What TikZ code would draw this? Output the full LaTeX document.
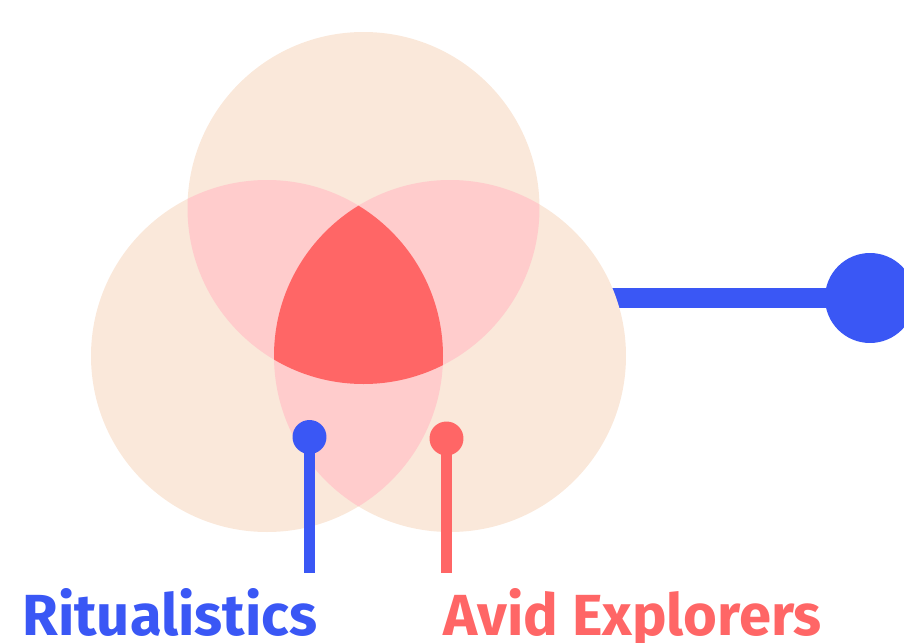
\documentclass[tikz,border=0pt]{standalone}
\usepackage{fontspec}
\setmainfont{Fira Sans}
\usetikzlibrary{positioning}

\definecolor{peach}{HTML}{FAE8DA}
\definecolor{blush}{HTML}{FFCCCC}
\definecolor{coral}{HTML}{FF6666}
\definecolor{royal}{HTML}{3A57F5}

\begin{document}
\begin{tikzpicture}[x=0.02cm, y=-0.02cm,
	pindot/.style={circle, fill=#1, inner sep=0pt, minimum size=0.68cm},
	pinline/.style={draw=#1, line width=6.2pt},
	tag/.style={anchor=base west, inner sep=0pt, text=#1, font=\fontsize{33}{40}\selectfont\bfseries}]

		\pgfmathsetmacro{\rad}{176}
		\useasboundingbox (0,0) rectangle (904,643);

		\coordinate (top) at (363.5,208);
		\coordinate (left) at (267,356);
		\coordinate (right) at (450,356);

		% hub connector, behind the circles
		\node[circle, fill=royal, inner sep=0pt, minimum size=1.8cm] (hub) at (870,298) {};
		\draw[royal, line width=11.9pt] (hub.center) -- (hub -| right);

		% draw the three circles
		\foreach \c in {top, left, right}
			\fill[peach] (\c) circle[radius=\rad];

		% pairwise overlaps
		\foreach \a/\b in {top/left, top/right, left/right}
		{
			\begin{scope}
				\clip (\a) circle[radius=\rad];
				\fill[blush] (\b) circle[radius=\rad];
			\end{scope}
		}

		% overlap of all three
		\begin{scope}
			\clip (top) circle[radius=\rad];
			\clip (left) circle[radius=\rad];
			\fill[coral] (right) circle[radius=\rad];
		\end{scope}

		% pins and labels
		\node[pindot=royal] (ritualdot) at (309.5,437) {};
		\coordinate (ritualend) at (309.5,573);
		\draw[pinline=royal] (ritualdot.center) -- (ritualend);
		\node[tag=royal] (ritual) at (22,635) {Ritualistics};

		\node[pindot=coral] (aviddot) at (446.5,438.5) {};
		\coordinate (avidend) at (446.5,573);
		\draw[pinline=coral] (aviddot.center) -- (avidend);
		\node[tag=coral] (avid) at (443,635) {Avid Explorers};
	\end{tikzpicture}
\end{document}
